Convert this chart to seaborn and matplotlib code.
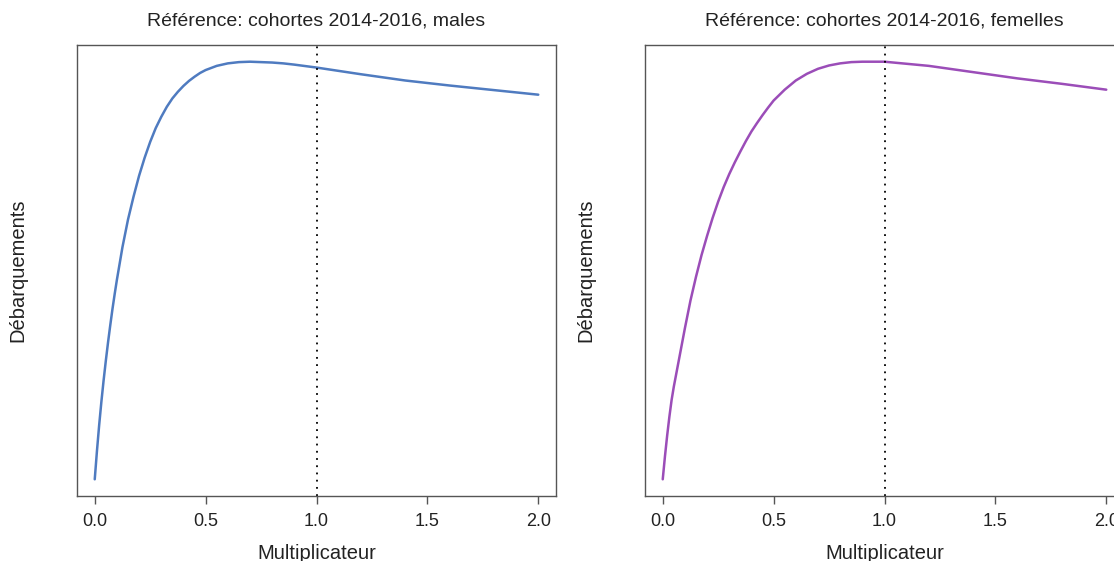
import numpy as np
import pandas as pd
from matplotlib import pyplot as plt
import seaborn as sns

# Multiplicateur de F (axe x) et debarquements relatifs
mult = [0.0, 0.01, 0.02, 0.03, 0.04, 0.05, 0.06, 0.07, 0.08, 0.09,
        0.10, 0.125, 0.15, 0.175, 0.20, 0.225, 0.25, 0.275, 0.30, 0.325,
        0.35, 0.375, 0.40, 0.425, 0.45, 0.475, 0.50, 0.55, 0.60, 0.65,
        0.70, 0.75, 0.80, 0.85, 0.90, 1.00, 1.20, 1.40, 1.60, 1.80, 2.00]

deb_males = [0.0, 0.068, 0.13, 0.186, 0.237, 0.284, 0.328, 0.369, 0.408, 0.444,
             0.478, 0.556, 0.622, 0.677, 0.727, 0.770, 0.808, 0.841, 0.868, 0.892,
             0.912, 0.928, 0.942, 0.954, 0.964, 0.973, 0.980, 0.990, 0.996, 0.999,
             1.000, 0.999, 0.998, 0.996, 0.993, 0.986, 0.970, 0.955, 0.943, 0.932, 0.921]

deb_femelles = [0.0, 0.055, 0.105, 0.15, 0.19, 0.222, 0.25, 0.278, 0.306, 0.334,
                0.362, 0.428, 0.485, 0.537, 0.583, 0.626, 0.665, 0.700, 0.731, 0.759,
                0.785, 0.810, 0.833, 0.853, 0.872, 0.890, 0.907, 0.933, 0.955, 0.971,
                0.983, 0.991, 0.996, 0.999, 1.000, 1.000, 0.990, 0.975, 0.960, 0.947, 0.933]

titres = ["Référence: cohortes 2014-2016, males",
          "Référence: cohortes 2014-2016, femelles"]
couleurs = ["#4f7bc0", "#9b4db8"]
f_ref = 1.0


def panneau(ax, y, titre, couleur):
    df = pd.DataFrame({"mult": mult, "deb": y})
    sns.lineplot(data=df, x="mult", y="deb", ax=ax, color=couleur, lw=1.8)
    ax.axvline(f_ref, color="black", ls=(0, (1, 3)), lw=1.3)
    ax.margins(x=0.04, y=0.04)
    ax.set_xticks([0.0, 0.5, 1.0, 1.5, 2.0])
    ax.set_xticklabels(["0.0", "0.5", "1.0", "1.5", "2.0"])
    ax.set_yticks([])
    ax.tick_params(axis="x", length=6, width=1, color="#555555", pad=6,
                   labelsize=13, labelcolor="#222222", direction="out", bottom=True)
    for s in ax.spines.values():
        s.set_visible(True)
        s.set_color("#555555")
        s.set_linewidth(1.0)
    ax.set_title(titre, fontsize=14, pad=14, color="#222222")
    ax.set_xlabel("Multiplicateur", fontsize=14.5, color="#222222")
    ax.set_ylabel("Débarquements", fontsize=14.5, color="#222222")
    ax.xaxis.set_label_coords(0.5, -0.106)
    ax.yaxis.set_label_coords(-0.104, 0.5)


def main():
    sns.set_style("white")
    plt.rcParams["font.family"] = ["Liberation Sans", "DejaVu Sans"]

    fig = plt.figure(figsize=(11.14, 5.61), dpi=100)
    ax1 = fig.add_axes([77 / 1114, 65 / 561, 479 / 1114, 451 / 561])
    ax2 = fig.add_axes([645 / 1114, 65 / 561, 479 / 1114, 451 / 561])

    panneau(ax1, deb_males, titres[0], couleurs[0])
    panneau(ax2, deb_femelles, titres[1], couleurs[1])

    fig.savefig("out.png", dpi=100)


if __name__ == "__main__":
    main()
